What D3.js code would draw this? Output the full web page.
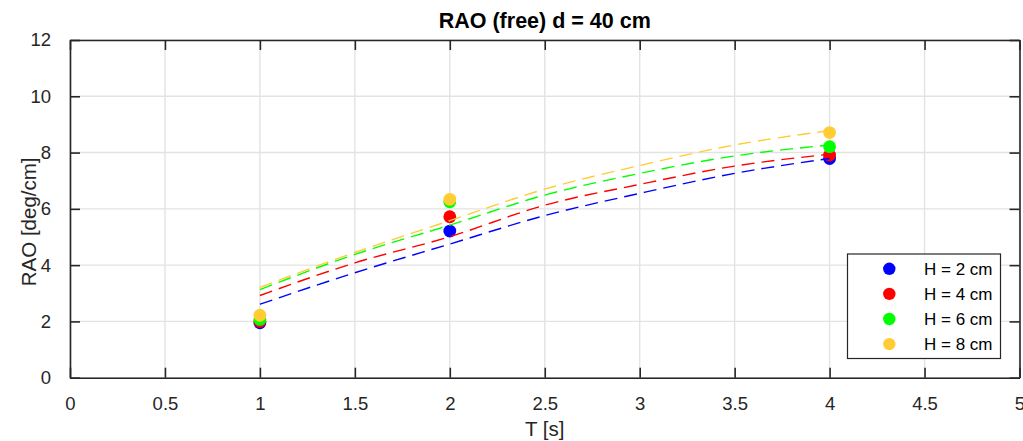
<!DOCTYPE html>
<html>
<head>
<meta charset="utf-8">
<script src="https://cdn.jsdelivr.net/npm/d3@7"></script>
<style>
  html, body { margin: 0; padding: 0; background: #fff; }
  svg { display: block; font-family: "Liberation Sans", Arial, Helvetica, sans-serif; }
</style>
</head>
<body>
<svg id="chart" width="1023" height="441"></svg>
<script>
// ---- data ----
const seriesNames = ["H = 2 cm", "H = 4 cm", "H = 6 cm", "H = 8 cm"];
const seriesColors = ["#0000FF", "#FF0000", "#00FF00", "#FFCC33"];
const periods = [1, 2, 4];
const raoH2 = [1.95, 5.21, 7.79];
const raoH4 = [2.00, 5.72, 7.91];
const raoH6 = [2.07, 6.25, 8.21];
const raoH8 = [2.22, 6.34, 8.71];
const fitT = [1, 1.5, 2, 2.5, 3, 3.5, 4];
const fitH2 = [2.61, 3.73, 4.75, 5.76, 6.55, 7.26, 7.79];
const fitH4 = [2.92, 4.08, 5.01, 6.13, 6.87, 7.52, 7.94];
const fitH6 = [3.13, 4.38, 5.42, 6.49, 7.26, 7.88, 8.27];
const fitH8 = [3.21, 4.45, 5.58, 6.70, 7.54, 8.27, 8.78];
const xTicks = [0, 0.5, 1, 1.5, 2, 2.5, 3, 3.5, 4, 4.5, 5];
const yTicks = [0, 2, 4, 6, 8, 10, 12];
const titleText = "RAO (free) d = 40 cm";
const xLabel = "T [s]";
const yLabel = "RAO [deg/cm]";

const pointSeries = [raoH2, raoH4, raoH6, raoH8];
const fitSeries = [fitH2, fitH4, fitH6, fitH8];

// ---- layout ----
const svg = d3.select("#chart");
const L = 70, R = 1019.5, T = 40, B = 377.7;
const x = d3.scaleLinear().domain([0, 5]).range([L, R]);
const y = d3.scaleLinear().domain([0, 12]).range([B, T]);
const axisColor = "#262626";

// grid
const grid = svg.append("g");
grid.selectAll("line.gx").data(xTicks).enter().append("line")
  .attr("x1", d => x(d)).attr("x2", d => x(d)).attr("y1", T).attr("y2", B)
  .attr("stroke", "#E3E3E3").attr("stroke-width", 1.4);
grid.selectAll("line.gy").data(yTicks).enter().append("line")
  .attr("y1", d => y(d)).attr("y2", d => y(d)).attr("x1", L).attr("x2", R)
  .attr("stroke", "#E3E3E3").attr("stroke-width", 1.4);

// axes with inward ticks
const tickLen = 10;
function styleAxis(g) {
  g.selectAll("path.domain").attr("stroke", axisColor).attr("stroke-width", 1.6);
  g.selectAll(".tick line").attr("stroke", axisColor).attr("stroke-width", 1.6);
  g.selectAll("text").attr("fill", axisColor).attr("font-size", "18.5px")
    .attr("font-family", "Liberation Sans, Arial, sans-serif");
}
const fmt = d => String(d);
svg.append("g").attr("transform", `translate(0,${B})`)
  .call(d3.axisBottom(x).tickValues(xTicks).tickFormat(fmt).tickSizeInner(-tickLen).tickSizeOuter(0).tickPadding(19))
  .call(styleAxis);
svg.append("g").attr("transform", `translate(0,${T})`)
  .call(d3.axisTop(x).tickValues(xTicks).tickFormat("").tickSizeInner(-tickLen).tickSizeOuter(0))
  .call(styleAxis);
svg.append("g").attr("transform", `translate(${L},0)`)
  .call(d3.axisLeft(y).tickValues(yTicks).tickFormat(fmt).tickSizeInner(-tickLen).tickSizeOuter(0).tickPadding(19))
  .call(styleAxis);
svg.append("g").attr("transform", `translate(${R},0)`)
  .call(d3.axisRight(y).tickValues(yTicks).tickFormat("").tickSizeInner(-tickLen).tickSizeOuter(0))
  .call(styleAxis);

// markers
pointSeries.forEach((vals, i) => {
  svg.append("g").selectAll("circle").data(vals).enter().append("circle")
    .attr("cx", (d, j) => x(periods[j])).attr("cy", d => y(d)).attr("r", 6.4)
    .attr("fill", seriesColors[i]);
});

// dashed fit curves
const line = d3.line().x((d, j) => x(fitT[j])).y(d => y(d)).curve(d3.curveMonotoneX);
fitSeries.forEach((vals, i) => {
  svg.append("path").datum(vals).attr("d", line)
    .attr("fill", "none").attr("stroke", seriesColors[i]).attr("stroke-width", 1.4)
    .attr("stroke-dasharray", "13,7");
});

// title and labels
svg.append("text").attr("x", (L + R) / 2).attr("y", 28).attr("text-anchor", "middle")
  .attr("font-size", "21.5px").attr("font-weight", "bold").attr("fill", "#000").text(titleText);
svg.append("text").attr("x", (L + R) / 2).attr("y", 436).attr("text-anchor", "middle")
  .attr("font-size", "20.5px").attr("fill", axisColor).text(xLabel);
svg.append("text").attr("transform", `translate(36,${(T + B) / 2 + 13}) rotate(-90)`).attr("text-anchor", "middle")
  .attr("font-size", "20.5px").attr("fill", axisColor).text(yLabel);

// legend
const lg = svg.append("g");
lg.append("rect").attr("x", 847.5).attr("y", 254).attr("width", 153).attr("height", 104.5)
  .attr("fill", "#fff").attr("stroke", axisColor).attr("stroke-width", 1.2);
seriesNames.forEach((name, i) => {
  const cy = 268.8 + i * 25.1;
  lg.append("circle").attr("cx", 889.3).attr("cy", cy).attr("r", 6.2).attr("fill", seriesColors[i]);
  lg.append("text").attr("x", 924).attr("y", cy + 6).attr("font-size", "17px").attr("fill", "#000").text(name);
});
</script>
</body>
</html>
